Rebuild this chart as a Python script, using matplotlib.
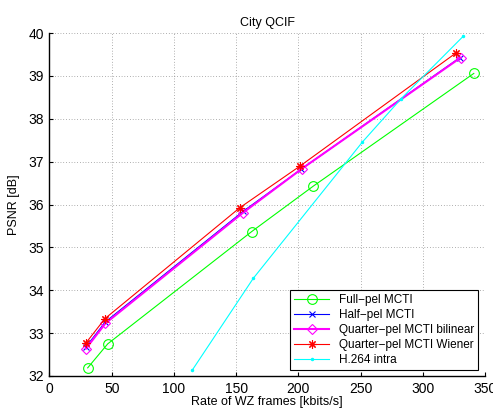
import matplotlib
matplotlib.use("Agg")
import matplotlib.pyplot as plt

# === Data ===
full_rate = [30.7, 46.8, 162.5, 212.0, 341.0]
full_psnr = [32.19, 32.75, 35.37, 36.43, 39.06]

half_rate = [29.3, 44.8, 155.5, 202.5, 329.8]
half_psnr = [32.68, 33.26, 35.84, 36.83, 39.43]

qbil_rate = [29.3, 45.0, 155.5, 203.0, 330.5]
qbil_psnr = [32.64, 33.23, 35.81, 36.84, 39.43]

qwie_rate = [29.0, 44.6, 153.1, 201.4, 326.8]
qwie_psnr = [32.76, 33.34, 35.93, 36.90, 39.54]

h264_rate = [114.8, 163.8, 251.5, 282.6, 332.6]
h264_psnr = [32.14, 34.28, 37.46, 38.47, 39.93]

x_ticks = [0, 50, 100, 150, 200, 250, 300, 350]
y_ticks = [32, 33, 34, 35, 36, 37, 38, 39, 40]

plt.rcParams['font.family'] = ['Liberation Sans', 'DejaVu Sans']
plt.rcParams['font.size'] = 8

fig = plt.figure(figsize=(4.93, 4.09), dpi=100)
ax = fig.add_axes([0.1004, 0.0807, 0.8834, 0.8383])

ax.plot(full_rate, full_psnr, color='#00ff00', lw=0.8, marker='o', ms=7,
        mfc='none', mec='#00ff00', mew=0.8, label='Full\u2212pel MCTI')
ax.plot(half_rate, half_psnr, color='#0000ff', lw=0.8, marker='x', ms=4,
        mew=0.8, label='Half\u2212pel MCTI')
ax.plot(qbil_rate, qbil_psnr, color='#ff00ff', lw=1.5, marker='D', ms=5.5,
        mfc='none', mec='#ff00ff', mew=0.8, label='Quarter\u2212pel MCTI bilinear')
ax.plot(qwie_rate, qwie_psnr, color='#ff0000', lw=0.8, marker=(8, 2, 0), ms=6,
        mew=0.8, label='Quarter\u2212pel MCTI Wiener')
ax.plot(h264_rate, h264_psnr, color='#00ffff', lw=0.8, marker='.', ms=3,
        label='H.264 intra')

ax.set_xlim(0, 350)
ax.set_ylim(32, 40)
ax.set_xticks(x_ticks)
ax.set_yticks(y_ticks)
ax.tick_params(direction='in', length=3, labelsize=10, width=0.8, pad=4)
ax.grid(True, linestyle=(0, (1, 3)), color='#666666', lw=0.5)
ax.spines['top'].set_visible(False)
ax.spines['right'].set_visible(False)
ax.spines['left'].set_linewidth(1.0)
ax.spines['bottom'].set_linewidth(1.0)

ax.set_title('City QCIF', fontsize=9, pad=5)
ax.set_xlabel('Rate of WZ frames [kbits/s]', fontsize=9, labelpad=0)
ax.set_ylabel('PSNR [dB]', fontsize=9, labelpad=6)

leg = ax.legend(loc='lower right', bbox_to_anchor=(0.984, 0.0175),
                fontsize=8.5, fancybox=False, framealpha=1,
                edgecolor='black', borderaxespad=0, handlelength=3.0,
                labelspacing=0.25, borderpad=0.35)
leg.get_frame().set_linewidth(0.8)

fig.savefig('out.png', dpi=100)
